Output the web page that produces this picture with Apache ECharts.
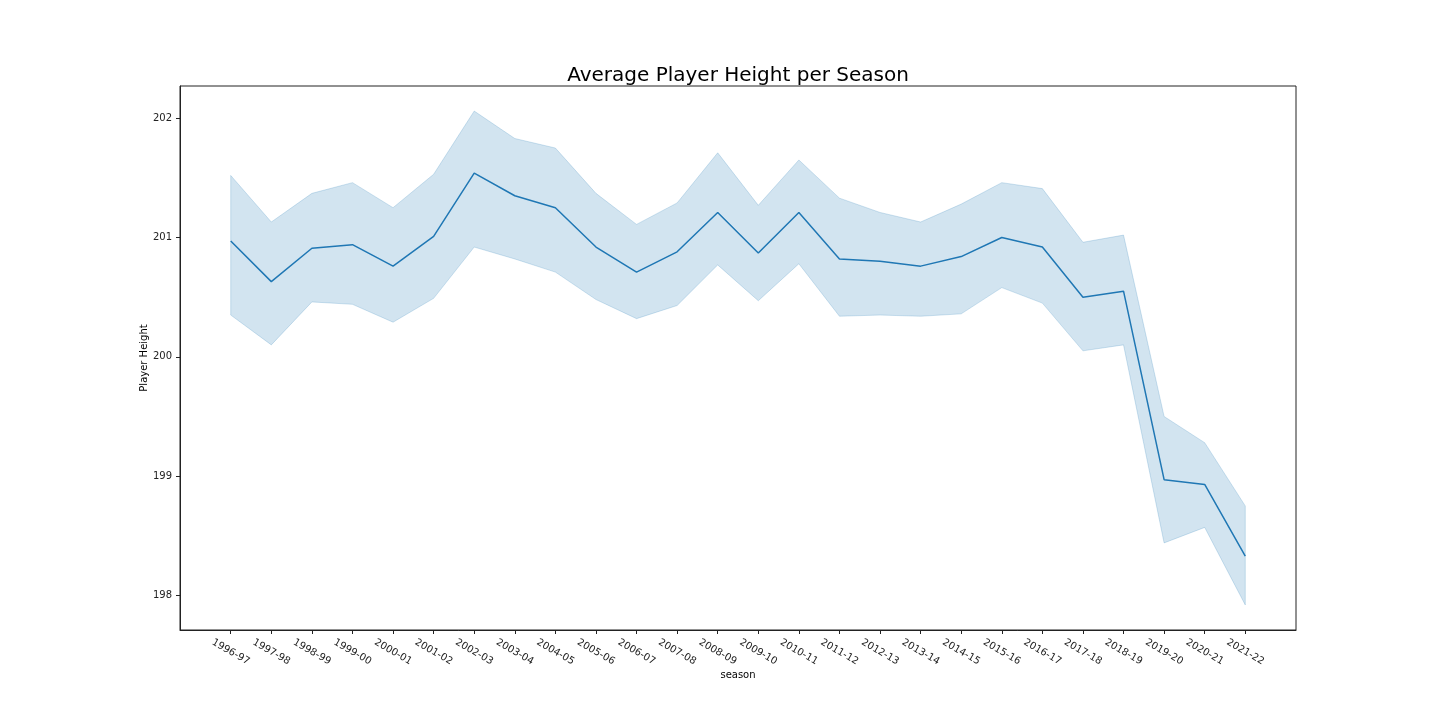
<!DOCTYPE html>
<html>
<head>
<meta charset="utf-8">
<title>Average Player Height per Season</title>
<script src="https://cdn.jsdelivr.net/npm/echarts@6/dist/echarts.min.js"></script>
<style>
  html, body { margin: 0; padding: 0; background: #fff; }
  #chart { width: 1440px; height: 720px; }
</style>
</head>
<body>
<div id="chart"></div>
<script>
// seasons on the x axis
var seasons = ['1996-97', '1997-98', '1998-99', '1999-00', '2000-01', '2001-02', '2002-03',
    '2003-04', '2004-05', '2005-06', '2006-07', '2007-08', '2008-09', '2009-10', '2010-11',
    '2011-12', '2012-13', '2013-14', '2014-15', '2015-16', '2016-17', '2017-18', '2018-19',
    '2019-20', '2020-21', '2021-22'];

// mean height per season
var meanHeight = [200.97, 200.63, 200.91, 200.94, 200.76, 201.01, 201.54, 201.35, 201.25,
    200.92, 200.71, 200.88, 201.21, 200.87, 201.21, 200.82, 200.80, 200.76, 200.84, 201.00,
    200.92, 200.50, 200.55, 198.97, 198.93, 198.33];

// confidence band
var upperHeight = [201.52, 201.13, 201.37, 201.46, 201.25, 201.53, 202.06, 201.83, 201.75,
    201.37, 201.11, 201.29, 201.71, 201.27, 201.65, 201.33, 201.21, 201.13, 201.28, 201.46,
    201.41, 200.96, 201.02, 199.50, 199.28, 198.75];
var lowerHeight = [200.35, 200.10, 200.46, 200.44, 200.29, 200.49, 200.92, 200.82, 200.71,
    200.48, 200.32, 200.43, 200.77, 200.47, 200.78, 200.34, 200.35, 200.34, 200.36, 200.58,
    200.45, 200.05, 200.10, 198.44, 198.57, 197.92];

var yTicks = [198, 199, 200, 201, 202];

var xIdx = seasons.map(function (s, i) { return i; });
var meanData = meanHeight.map(function (v, i) { return [i, v]; });
var bandData = upperHeight.map(function (v, i) { return [i, lowerHeight[i], v]; });

var myChart = echarts.init(document.getElementById('chart'));

var option = {
    animation: false,
    backgroundColor: '#fff',
    textStyle: { fontFamily: 'DejaVu Sans' },
    title: {
        text: 'Average Player Height per Season',
        left: 733,
        textAlign: 'center',
        top: 61,
        textStyle: { fontSize: 20, fontWeight: 'normal', color: '#000', fontFamily: 'DejaVu Sans' }
    },
    grid: {
        left: 180, right: 144, top: 86, bottom: 90,
        show: true, borderColor: '#222', borderWidth: 1, backgroundColor: 'transparent'
    },
    xAxis: {
        type: 'value',
        min: -1.25,
        max: 26.25,
        name: 'season',
        nameLocation: 'middle',
        nameGap: 40,
        nameMoveOverlap: false,
        nameTextStyle: { fontSize: 10, color: '#000' },
        splitLine: { show: false },
        axisLine: { show: true, onZero: false, lineStyle: { color: '#222' } },
        axisTick: { show: true, length: 4, customValues: xIdx, lineStyle: { color: '#222' } },
        axisLabel: {
            customValues: xIdx,
            rotate: -30,
            fontSize: 10,
            color: '#222',
            margin: 22,
            align: 'center',
            verticalAlign: 'middle',
            formatter: function (v) { return seasons[Math.round(v)]; }
        }
    },
    yAxis: {
        type: 'value',
        min: 197.71,
        max: 202.27,
        name: 'Player Height',
        nameLocation: 'middle',
        nameGap: 31,
        nameMoveOverlap: false,
        nameTextStyle: { fontSize: 10, color: '#000' },
        splitLine: { show: false },
        axisLine: { show: true, onZero: false, lineStyle: { color: '#222' } },
        axisTick: { show: true, length: 4, customValues: yTicks, lineStyle: { color: '#222' } },
        axisLabel: { customValues: yTicks, fontSize: 10, color: '#222', margin: 8 }
    },
    series: [
        {
            // CI band drawn as one polygon
            type: 'custom',
            data: bandData,
            silent: true,
            z: 1,
            renderItem: function (params, api) {
                if (params.dataIndex !== 0) return null;
                var pts = [];
                for (var i = 0; i < upperHeight.length; i++) {
                    pts.push(api.coord([i, upperHeight[i]]));
                }
                for (var j = lowerHeight.length - 1; j >= 0; j--) {
                    pts.push(api.coord([j, lowerHeight[j]]));
                }
                return {
                    type: 'polygon',
                    shape: { points: pts },
                    style: {
                        fill: 'rgba(31,119,180,0.2)',
                        stroke: 'rgba(31,119,180,0.2)',
                        lineWidth: 1
                    }
                };
            }
        },
        {
            type: 'line',
            data: meanData,
            symbol: 'none',
            z: 3,
            lineStyle: { color: '#1f77b4', width: 1.5 }
        }
    ]
};

myChart.setOption(option);
window.onresize = myChart.resize;
</script>
</body>
</html>
